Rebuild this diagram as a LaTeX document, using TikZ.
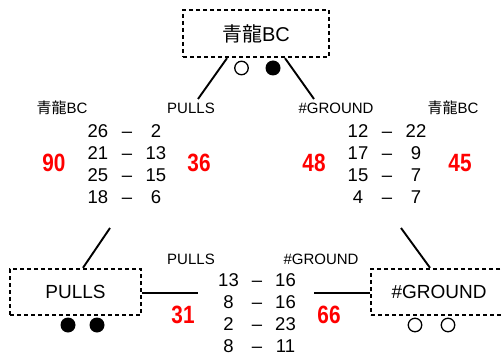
\documentclass[tikz,border=0pt]{standalone}
\usepackage{fontspec}
\usepackage{array}
\setmainfont{Liberation Sans}
\newfontfamily\cjk{Noto Sans CJK JP}
\newcommand{\bignum}[1]{\textcolor{red}{\fontsize{25}{25}\selectfont\bfseries\scalebox{0.83}[1]{#1}}}
\newcommand{\dsh}{--}
\begin{document}
\begin{tikzpicture}[x=1pt,y=-1pt,
  teambox/.style={draw, line width=2.4pt, dash pattern=on 4pt off 3pt, inner sep=0pt, font=\fontsize{19}{19}\selectfont},
  conn/.style={line width=1.9pt},
  lbl/.style={font=\fontsize{15}{15}\selectfont, inner sep=0pt},
  scores/.style={inner sep=0pt, font=\fontsize{18.5}{22}\selectfont},
  red/.style={inner sep=0pt},
  wdot/.style={circle, draw, line width=1.3pt, minimum size=13.5pt, inner sep=0pt},
  bdot/.style={circle, fill, minimum size=15pt, inner sep=0pt}]
\useasboundingbox (0,0) rectangle (502,355);
\clip (0,0) rectangle (502,355);
\fill[white] (0,0) rectangle (502,355);

% top box
\node[teambox, minimum width=146pt, minimum height=47pt, font=\fontsize{20}{20}\selectfont] (top) at (256,33.5) {{\cjk 青龍}BC};
\node[wdot] (tw) at (241.5,68) {};
\node[bdot] (tb) at (273,68) {};

% bottom boxes
\node[teambox, minimum width=131pt, minimum height=46pt] (pulls) at (75.5,292) {PULLS};
\node[teambox, minimum width=136pt, minimum height=46pt] (ground) at (439,292) {\#GROUND};
\node[bdot] (pb1) at (68,325) {};
\node[bdot] (pb2) at (97,325) {};
\node[wdot] (gw1) at (415,325) {};
\node[wdot] (gw2) at (448,325) {};

% labels
\node[lbl] (l1) at (62,108) {{\cjk 青龍}BC};
\node[lbl] (l2) at (191,108) {PULLS};
\node[lbl] (l3) at (336,108) {\#GROUND};
\node[lbl] (l4) at (453,108) {{\cjk 青龍}BC};
\node[lbl] (l5) at (191,259) {PULLS};
\node[lbl] (l6) at (321,259) {\#GROUND};

% score tables
\node[scores] (sL) at (127,166) {\begin{tabular}{@{}w{c}{24pt}@{}w{c}{34pt}@{}w{c}{24pt}@{}}
26 & \dsh & 2\\ 21 & \dsh & 13\\ 25 & \dsh & 15\\ 18 & \dsh & 6\end{tabular}};
\node[scores] (sR) at (387,166) {\begin{tabular}{@{}w{c}{24pt}@{}w{c}{34pt}@{}w{c}{24pt}@{}}
12 & \dsh & 22\\ 17 & \dsh & 9\\ 15 & \dsh & 7\\ 4 & \dsh & 7\end{tabular}};
\node[scores] (sB) at (257,315) {\begin{tabular}{@{}w{c}{24pt}@{}w{c}{33pt}@{}w{c}{24pt}@{}}
13 & \dsh & 16\\ 8 & \dsh & 16\\ 2 & \dsh & 23\\ 8 & \dsh & 11\end{tabular}};

% red totals
\node[red] (r1) at (54,163) {\bignum{90}};
\node[red] (r2) at (199,163) {\bignum{36}};
\node[red] (r3) at (314,163) {\bignum{48}};
\node[red] (r4) at (460,163) {\bignum{45}};
\node[red] (r5) at (183,315) {\bignum{31}};
\node[red] (r6) at (329,315) {\bignum{66}};

% connector ends
\coordinate (c1) at (198,99);
\coordinate (c2) at (314,99);
\coordinate (c3) at (110,228);
\coordinate (c4) at (401,228);
\coordinate (c5) at (198,293);
\coordinate (c6) at (314,293);

\draw[conn] (top.south -| 227,0) -- (c1);
\draw[conn] (top.south -| 285,0) -- (c2);
\draw[conn] (pulls.north -| 83,0) -- (c3);
\draw[conn] (ground.north -| 430,0) -- (c4);
\draw[conn] (pulls.east |- 0,293) -- (c5);
\draw[conn] (ground.west |- 0,293) -- (c6);
\end{tikzpicture}
\end{document}
